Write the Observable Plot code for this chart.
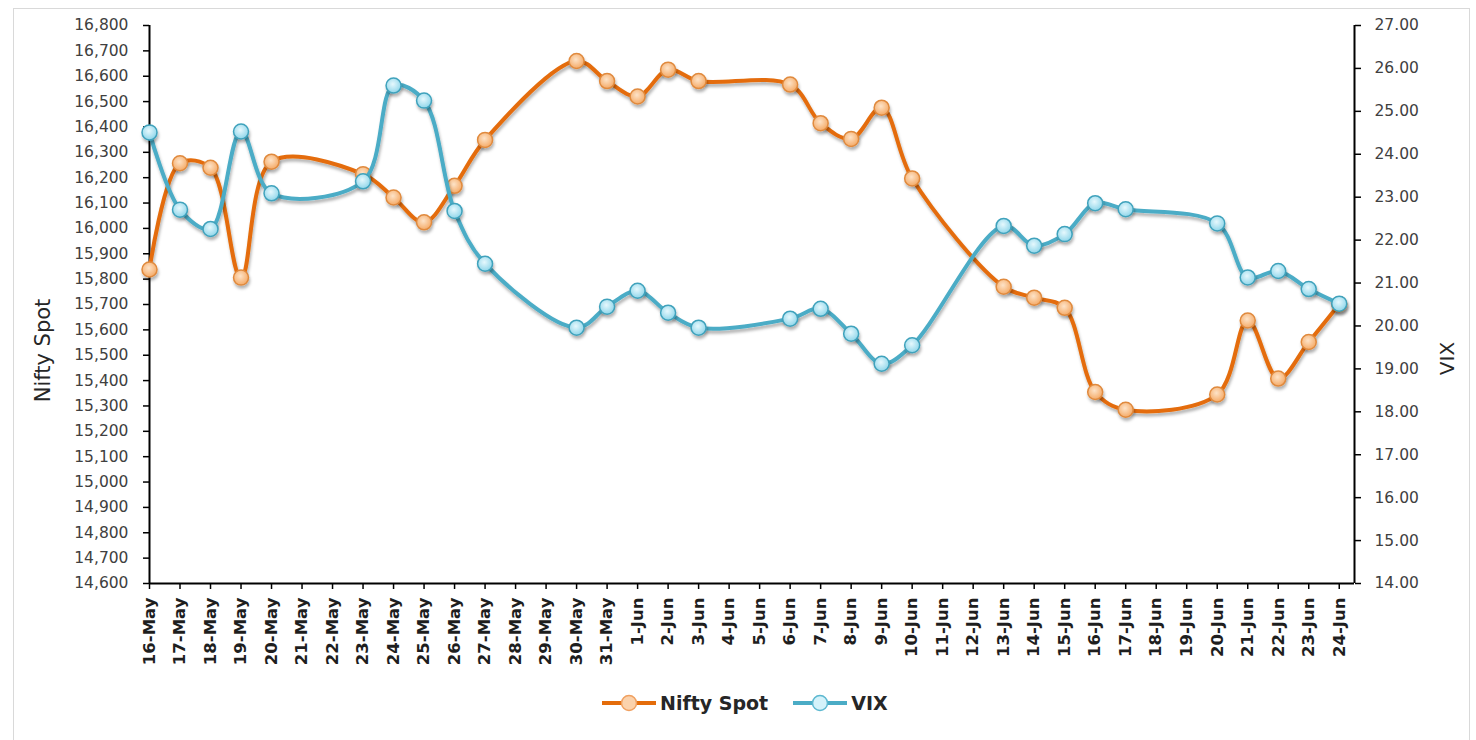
<!DOCTYPE html>
<html><head><meta charset="utf-8">
<script src="https://cdn.jsdelivr.net/npm/d3@7"></script>
<script src="https://cdn.jsdelivr.net/npm/@observablehq/plot@0.6"></script>
<style>
html,body{margin:0;padding:0;background:#fff;width:1476px;height:740px;overflow:hidden;position:relative;}
#frame{position:absolute;left:13px;top:8px;width:1457px;height:780px;border:1.5px solid #d9d9d9;box-sizing:border-box;}
#chart{position:absolute;left:0;top:0;}
#legend{position:absolute;left:602px;top:680px;height:46px;display:flex;align-items:center;font-family:"DejaVu Sans",sans-serif;font-weight:bold;font-size:19px;color:#262626;}
#legend .item{display:flex;align-items:center;margin-right:25px;}
#legend svg{margin-right:4px;}
</style></head>
<body>
<div id="frame"></div>
<div id="chart"></div>
<div id="legend"></div>
<script>
// ---- data ----
const dates = ["2022-05-16","2022-05-17","2022-05-18","2022-05-19","2022-05-20","2022-05-23","2022-05-24","2022-05-25","2022-05-26","2022-05-27","2022-05-30","2022-05-31","2022-06-01","2022-06-02","2022-06-03","2022-06-06","2022-06-07","2022-06-08","2022-06-09","2022-06-10","2022-06-13","2022-06-14","2022-06-15","2022-06-16","2022-06-17","2022-06-20","2022-06-21","2022-06-22","2022-06-23","2022-06-24"];
const nifty = [15838,16257,16239,15806,16263,16214,16122,16024,16168,16349,16660,16581,16520,16626,16581,16567,16415,16353,16476,16197,15770,15727,15687,15355,15285,15345,15637,15408,15552,15701];
const vix = [24.51,22.71,22.26,24.53,23.09,23.37,25.60,25.25,22.68,21.45,19.96,20.45,20.82,20.31,19.96,20.17,20.40,19.82,19.12,19.55,22.33,21.87,22.14,22.86,22.72,22.39,21.13,21.28,20.86,20.52];
const niftyTicks = [14600,14700,14800,14900,15000,15100,15200,15300,15400,15500,15600,15700,15800,15900,16000,16100,16200,16300,16400,16500,16600,16700,16800];
const vixTicks = [14,15,16,17,18,19,20,21,22,23,24,25,26,27];
const seriesNames = ["Nifty Spot","VIX"];

const ORANGE = "#E46C0A", TEAL = "#4BACC6";
const nMin = 14600, nMax = 16800, vMin = 14, vMax = 27;
const toN = v => nMin + (v - vMin) * (nMax - nMin) / (vMax - vMin);
const fromN = n => vMin + (n - nMin) * (vMax - vMin) / (nMax - nMin);

const data = dates.map((d, i) => ({date: new Date(d + "T00:00:00Z"), nifty: nifty[i], vixN: toN(vix[i])}));
const start = new Date("2022-05-16T00:00:00Z");
const endHalf = new Date("2022-06-24T12:00:00Z");
const days = d3.utcDay.range(start, new Date("2022-06-25T00:00:00Z"));
const fmt = d3.utcFormat("%-d-%b");

const defs = () => {
  const g = d3.create("svg:defs");
  const go = g.append("radialGradient").attr("id", "gO").attr("cx", "45%").attr("cy", "40%").attr("r", "60%");
  go.append("stop").attr("offset", "0%").attr("stop-color", "#fde3c8");
  go.append("stop").attr("offset", "100%").attr("stop-color", "#f5aa66");
  const gt = g.append("radialGradient").attr("id", "gT").attr("cx", "45%").attr("cy", "40%").attr("r", "60%");
  gt.append("stop").attr("offset", "0%").attr("stop-color", "#e6f8fd");
  gt.append("stop").attr("offset", "100%").attr("stop-color", "#8fd6ea");
  const f = g.append("filter").attr("id", "shadow").attr("x", "-10%").attr("y", "-10%").attr("width", "120%").attr("height", "130%");
  f.append("feDropShadow").attr("dx", 1).attr("dy", 3).attr("stdDeviation", 1.8).attr("flood-color", "#000").attr("flood-opacity", 0.3);
  return g.node();
};

const plot = Plot.plot({
  width: 1476,
  height: 680,
  marginLeft: 149,
  marginRight: 122,
  marginTop: 25,
  marginBottom: 97,
  style: {fontFamily: "DejaVu Sans, sans-serif", background: "transparent", color: "#000"},
  x: {type: "utc", domain: [start, endHalf]},
  y: {domain: [nMin, nMax]},
  marks: [
    defs,
    Plot.axisY(niftyTicks, {anchor: "left", tickFormat: d3.format(","), tickSize: 6, tickPadding: 15, fontSize: 15.5, fill: "#404040", stroke: "#000", strokeWidth: 1.5, label: null}),
    Plot.axisY(vixTicks.map(toN), {anchor: "right", tickFormat: d => fromN(d).toFixed(2), tickSize: 6, tickPadding: 14, fontSize: 15.5, fill: "#404040", stroke: "#000", strokeWidth: 1.5, label: null}),
    Plot.axisX(days, {anchor: "bottom", tickFormat: fmt, tickRotate: -90, tickSize: 6, tickPadding: 8, fontSize: 16.5, fontWeight: "bold", fill: "#1e1e1e", stroke: "#000", strokeWidth: 1.5, label: null}),
    Plot.ruleX([start], {stroke: "#000", strokeWidth: 2}),
    Plot.ruleX([endHalf], {stroke: "#000", strokeWidth: 2}),
    Plot.ruleY([nMin], {stroke: "#000", strokeWidth: 2}),
    Plot.text([seriesNames[0]], {frameAnchor: "left", textAnchor: "middle", dx: -106, dy: 46, rotate: -90, fontSize: 21, fill: "#262626"}),
    Plot.text([seriesNames[1]], {frameAnchor: "right", textAnchor: "middle", dx: 93, dy: 54, rotate: -90, fontSize: 20, fill: "#262626"}),
    Plot.line(data, {x: "date", y: "nifty", stroke: ORANGE, strokeWidth: 4, curve: "catmull-rom"}),
    Plot.dot(data, {x: "date", y: "nifty", r: 7.5, fill: "url(#gO)", stroke: "#e08a3e", strokeWidth: 1.5}),
    Plot.line(data, {x: "date", y: "vixN", stroke: TEAL, strokeWidth: 4, curve: "catmull-rom"}),
    Plot.dot(data, {x: "date", y: "vixN", r: 7.5, fill: "url(#gT)", stroke: "#3fa2bc", strokeWidth: 1.5})
  ]
});
plot.querySelectorAll('g[aria-label="line"], g[aria-label="dot"]').forEach(g => g.setAttribute("filter", "url(#shadow)"));
document.getElementById("chart").appendChild(plot);

// legend
const legend = document.getElementById("legend");
[[seriesNames[0], ORANGE, "#fbd2ac", "#f0a060"], [seriesNames[1], TEAL, "#d4f2fa", "#5cb8d0"]].forEach(([name, c, fill, st]) => {
  const item = document.createElement("div");
  item.className = "item";
  item.innerHTML = `<svg width="54" height="20"><line x1="0" x2="54" y1="10" y2="10" stroke="${c}" stroke-width="4"/><circle cx="27" cy="10" r="7.5" fill="${fill}" stroke="${st}" stroke-width="1.5"/></svg><span>${name}</span>`;
  legend.appendChild(item);
});
</script>
</body></html>
